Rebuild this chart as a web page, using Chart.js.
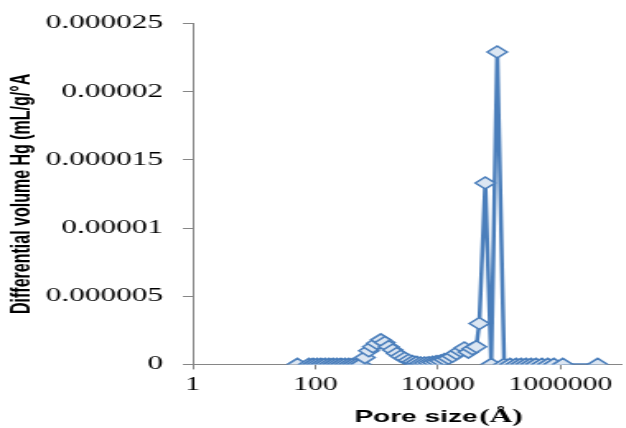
<!DOCTYPE html>
<html>
<head>
<meta charset="utf-8">
<script src="https://cdn.jsdelivr.net/npm/chart.js@4/dist/chart.umd.min.js"></script>
<style>
  html, body { margin: 0; padding: 0; background: #fff; overflow: hidden; }
  /* the reference picture is stretched sideways, so the chart is drawn narrow and scaled;
     the few unused pixels Chart.js keeps on the right fall outside the window */
  #wrap { width: 385px; height: 428px; transform: scaleX(1.647); transform-origin: 0 0; }
</style>
</head>
<body>
<div id="wrap"><canvas id="chart"></canvas></div>
<script>
// pore size (Å)
const poreSize = [
  51, 79, 92, 107, 124, 144, 168, 195, 226, 262, 305, 354, 411, 477, 554,
  643, 747, 867, 1007, 1170, 1359, 1578, 1833, 2129, 2472, 2871, 3334, 3872,
  4497, 5222, 6065, 7043, 8180, 9500, 11033, 12812, 14880, 17280, 20068,
  23306, 27066, 31432, 36503, 42392, 47362, 59291, 74226, 92920,
  120580, 150950, 188970, 227620, 274190, 330270, 397840, 498040, 623490,
  780520, 1094000, 4049000
];
// differential volume Hg (mL/g/°A)
const diffVolume = [
  0, 0, 0, 0, 0, 0, 0, 0, 0, 0, 0, 0, 0, 0, 0,
  0.0000005, 0.0000010, 0.0000013, 0.00000155, 0.0000018, 0.0000016, 0.0000013,
  0.00000105, 0.0000008, 0.0000006, 0.00000045, 0.0000003, 0.0000002,
  0.00000015, 0.0000001, 0.0000001, 0.00000012, 0.00000015, 0.0000002,
  0.00000025, 0.00000035, 0.00000045, 0.0000006, 0.0000008,
  0.0000010, 0.0000012, 0.0000009, 0.00000115, 0.0000013, 0.0000030,
  0.0000133, 0, 0.0000229,
  0, 0, 0, 0, 0, 0, 0, 0, 0,
  0, 0, 0
];
const xTicks = [1, 100, 10000, 1000000];
const yTicks = [0, 0.000005, 0.00001, 0.000015, 0.00002, 0.000025];
const yTickLabels = ['0', '0.000005', '0.00001', '0.000015', '0.00002', '0.000025'];

const axisGray = '#868686';
const blue = '#4a7ebb';

// x axis title: "Pore size" in sans, "(Å)" in serif
const xTitlePlugin = {
  id: 'xTitle',
  afterDraw(chart) {
    const ctx = chart.ctx;
    const area = chart.chartArea;
    const part1 = 'Pore size';
    const part2 = '(Å)';
    const f1 = 'bold 17px "Liberation Sans", Arial, sans-serif';
    const f2 = 'bold 19px "Liberation Serif", "Times New Roman", serif';
    ctx.save();
    ctx.fillStyle = '#000';
    ctx.textBaseline = 'alphabetic';
    ctx.font = f1;
    const w1 = ctx.measureText(part1).width;
    ctx.font = f2;
    const w2 = ctx.measureText(part2).width;
    const gap = 1;
    const cx = (area.left + area.right) / 2 + 19;
    const x = cx - (w1 + gap + w2) / 2;
    const y = 422;
    ctx.font = f1;
    ctx.fillText(part1, x, y);
    ctx.font = f2;
    ctx.fillText(part2, x + w1 + gap, y);
    ctx.restore();
  }
};

new Chart(document.getElementById('chart'), {
  type: 'line',
  data: {
    datasets: [{
      data: poreSize.map((p, i) => ({ x: p, y: diffVolume[i] })),
      borderColor: blue,
      borderWidth: 2.5,
      tension: 0,
      pointStyle: 'rectRot',
      pointRadius: 6,
      pointBorderWidth: 1.5,
      pointBackgroundColor: '#dce6f2',
      pointBorderColor: blue
    }]
  },
  options: {
    responsive: true,
    maintainAspectRatio: false,
    animation: false,
    layout: { padding: { top: 10, left: 0, right: 0, bottom: 27 } },
    plugins: { legend: { display: false }, tooltip: { enabled: false } },
    scales: {
      x: {
        type: 'logarithmic',
        min: 1,
        max: 10000000,
        afterBuildTicks: (scale) => { scale.ticks = xTicks.map(v => ({ value: v })); },
        afterFit: (scale) => { scale.paddingLeft = 0; scale.paddingRight = 0; },
        ticks: {
          autoSkip: false,
          maxRotation: 0,
          padding: 5,
          color: '#000',
          font: { family: '"Liberation Serif", "Times New Roman", serif', size: 18 },
          callback: (v) => String(v)
        },
        grid: { drawOnChartArea: false, tickLength: 5, color: axisGray },
        border: { color: axisGray }
      },
      y: {
        min: 0,
        max: 0.000025,
        afterBuildTicks: (scale) => { scale.ticks = yTicks.map(v => ({ value: v })); },
        afterFit: (scale) => { scale.width = 117; },
        ticks: {
          padding: 12,
          color: '#000',
          font: { family: '"Liberation Serif", "Times New Roman", serif', size: 19 },
          callback: (v, i) => yTickLabels[i]
        },
        grid: { drawOnChartArea: false, tickLength: 6, color: axisGray },
        border: { color: axisGray },
        title: {
          display: true,
          text: 'Differential volume Hg (mL/g/°A',
          color: '#000',
          padding: { top: 4, bottom: 4 },
          font: { family: '"Liberation Sans", Arial, sans-serif', size: 16, weight: 'bold' }
        }
      }
    }
  },
  plugins: [xTitlePlugin]
});
</script>
</body>
</html>
